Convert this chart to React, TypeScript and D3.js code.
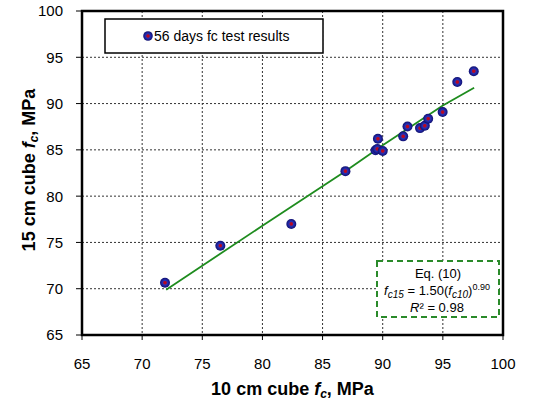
import React from "react";
import * as d3 from "d3";

const xTicks = [65, 70, 75, 80, 85, 90, 95, 100];
const yTicks = [65, 70, 75, 80, 85, 90, 95, 100];

const fc10 = [71.9, 76.5, 82.4, 86.9, 89.4, 89.55, 89.6, 90.0, 91.7, 92.06, 93.1, 93.5, 93.78, 94.98, 96.2, 97.57];
const fc15 = [70.65, 74.65, 77.0, 82.7, 84.95, 85.1, 86.2, 84.88, 86.46, 87.52, 87.35, 87.6, 88.37, 89.08, 92.33, 93.5];

const fitX = [72.0, 80.0, 86.8, 90.0, 95.0, 97.6];
const fitY = [69.9, 76.8, 82.6, 85.5, 89.8, 91.7];

const legendLabel = "56 days fc test results";

export default function App() {
  const W = 533, H = 403;
  const left = 82, right = 503, top = 11, bottom = 335;
  const x = d3.scaleLinear().domain([65, 100]).range([left, right]);
  const y = d3.scaleLinear().domain([65, 100]).range([bottom, top]);
  const line = d3.line<number>().x((_, i) => x(fitX[i])).y((_, i) => y(fitY[i]));
  const font = "'Liberation Sans', Arial, sans-serif";

  return (
    <svg width={W} height={H} style={{ position: "absolute", left: 0, top: 0, background: "#fff" }} fontFamily={font}>
      <defs>
        <radialGradient id="mk" cx="50%" cy="50%" r="50%">
          <stop offset="0%" stopColor="#c8001c" />
          <stop offset="28%" stopColor="#a8102c" />
          <stop offset="45%" stopColor="#2830b8" />
          <stop offset="100%" stopColor="#101070" />
        </radialGradient>
      </defs>
      <rect x={0} y={0} width={W} height={H} fill="#fff" />
      {/* grid */}
      {xTicks.filter(t => t > 65 && t < 100).map(t => (
        <line key={"gx" + t} x1={x(t)} x2={x(t)} y1={top} y2={bottom} stroke="#333" strokeWidth={1} strokeDasharray="2,2" />
      ))}
      {yTicks.filter(t => t > 65 && t < 100).map(t => (
        <line key={"gy" + t} x1={left} x2={right} y1={y(t)} y2={y(t)} stroke="#333" strokeWidth={1} strokeDasharray="2,2" />
      ))}
      {/* ticks */}
      {xTicks.map(t => (
        <g key={"tx" + t}>
          <line x1={x(t)} x2={x(t)} y1={bottom} y2={bottom + 5} stroke="#000" strokeWidth={1} />
          <text x={x(t)} y={369} textAnchor="middle" fontSize={15} fill="#000">{t}</text>
        </g>
      ))}
      {yTicks.map(t => (
        <g key={"ty" + t}>
          <line x1={left - 6} x2={left} y1={y(t)} y2={y(t)} stroke="#000" strokeWidth={1} />
          <text x={63} y={y(t)} dy="0.36em" textAnchor="end" fontSize={15} fill="#000">{t}</text>
        </g>
      ))}
      {/* legend box */}
      <rect x={105} y={19} width={218} height={34} fill="#fff" stroke="#000" strokeWidth={1.5} />
      <circle cx={148} cy={36} r={4.8} fill="url(#mk)" />
      <text x={154} y={41} fontSize={14} fill="#000">{legendLabel}</text>
      {/* equation box */}
      <rect x={377} y={261} width={122} height={56} fill="#fff" stroke="#2a8a2a" strokeWidth={2} strokeDasharray="6,4" />
      <text x={438} y={278} textAnchor="middle" fontSize={13} fill="#000">Eq. (10)</text>
      <text x={437} y={295} textAnchor="middle" fontSize={13} fill="#000">
        <tspan fontStyle="italic">f</tspan>
        <tspan fontStyle="italic" fontSize={10} dy={3}>c15</tspan>
        <tspan dy={-3}> = 1.50(</tspan>
        <tspan fontStyle="italic">f</tspan>
        <tspan fontStyle="italic" fontSize={10} dy={3}>c10</tspan>
        <tspan dy={-3}>)</tspan>
        <tspan fontSize={9} dy={-5}>0.90</tspan>
      </text>
      <text x={437} y={312} textAnchor="middle" fontSize={13} fill="#000">
        <tspan fontStyle="italic">R</tspan>
        <tspan>² = 0.98</tspan>
      </text>
      {/* fit line */}
      <path d={line(fitX) || ""} fill="none" stroke="#1e8c1e" strokeWidth={1.8} />
      {/* points */}
      {fc10.map((v, i) => (
        <circle key={"p" + i} cx={x(v)} cy={y(fc15[i])} r={5} fill="url(#mk)" />
      ))}
      {/* frame */}
      <rect x={left} y={top} width={right - left} height={bottom - top} fill="none" stroke="#000" strokeWidth={2.5} />
      {/* axis titles */}
      <text x={(left + right) / 2} y={395} textAnchor="middle" fontSize={18} fontWeight="bold" fill="#000">
        <tspan>10 cm cube </tspan>
        <tspan fontStyle="italic">f</tspan>
        <tspan fontStyle="italic" fontSize={12} dy={3}>c</tspan>
        <tspan dy={-3}>, MPa</tspan>
      </text>
      <text transform={`translate(35,170) rotate(-90)`} textAnchor="middle" fontSize={18} fontWeight="bold" fill="#000">
        <tspan>15 cm cube </tspan>
        <tspan fontStyle="italic">f</tspan>
        <tspan fontStyle="italic" fontSize={12} dy={3}>c</tspan>
        <tspan dy={-3}>, MPa</tspan>
      </text>
    </svg>
  );
}
